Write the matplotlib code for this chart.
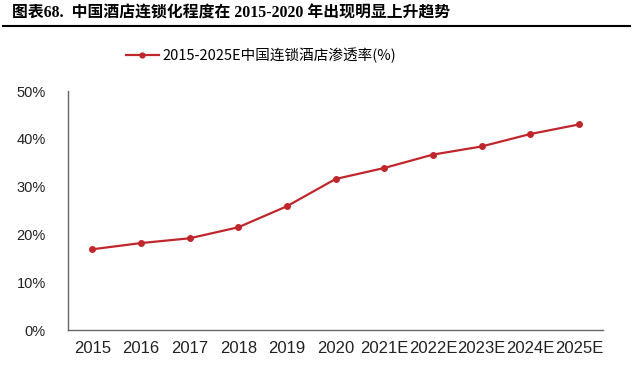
import matplotlib.pyplot as plt
from matplotlib.lines import Line2D
from matplotlib.ticker import FuncFormatter

# data
years = ['2015', '2016', '2017', '2018', '2019', '2020',
         '2021E', '2022E', '2023E', '2024E', '2025E']
rate = [16.9, 18.2, 19.2, 21.5, 25.9, 31.6, 33.9, 36.7, 38.4, 41.0, 43.0]

red = '#C0272D'
cjk = ['Noto Sans CJK SC', 'DejaVu Sans']

fig = plt.figure(figsize=(6.41, 3.73), dpi=100)
ax = fig.add_axes([0.106, 0.115, 0.835, 0.641])

x = list(range(len(years)))
ax.plot(x, rate, color=red, lw=1.6, marker='o', ms=4, label='2015-2025E中国连锁酒店渗透率(%)')

ax.set_xlim(-0.5, len(years) - 0.5)
ax.set_ylim(0, 50)
ax.set_yticks([0, 10, 20, 30, 40, 50])
ax.yaxis.set_major_formatter(FuncFormatter(lambda v, p: f'{v:.0f}%'))
ax.set_xticks(x)
ax.set_xticklabels(years)
ax.tick_params(axis='x', length=0, labelsize=12, pad=8)
ax.tick_params(axis='y', length=0, labelsize=10.5, pad=16)
for lab in ax.get_xticklabels() + ax.get_yticklabels():
    lab.set_family('Liberation Sans')
    lab.set_color('#222222')
for s in ['top', 'right']:
    ax.spines[s].set_visible(False)
for s in ['left', 'bottom']:
    ax.spines[s].set_color('#666666')
    ax.spines[s].set_linewidth(1)

# legend at top center
handle = Line2D([], [], color=red, lw=1.6, marker='o', ms=3.5)
fig.legend([handle], ['2015-2025E中国连锁酒店渗透率(%)'], loc='center',
           bbox_to_anchor=(0.408, 0.852), frameon=False, handlelength=2.2,
           handletextpad=0.3, prop={'family': cjk, 'size': 10.5})

# title and underline
fig.text(0.019, 0.963, '图表68.  中国酒店连锁化程度在 2015-2020 年出现明显上升趋势',
         family=['Liberation Serif', 'Noto Sans CJK SC'], weight='bold',
         fontsize=11.4, va='center', ha='left')
fig.add_artist(Line2D([0.005, 0.983], [0.93, 0.93], color='black', lw=1.5,
                      transform=fig.transFigure))

fig.savefig('out.png', dpi=100)
